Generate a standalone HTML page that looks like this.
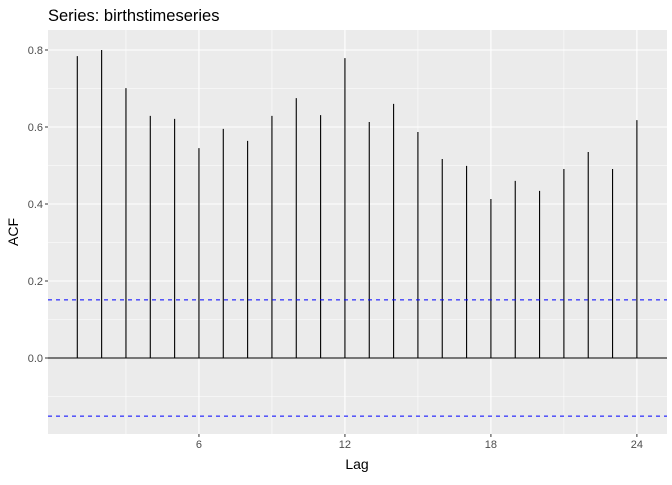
<!DOCTYPE html>
<html><head><meta charset="utf-8"><style>
body{margin:0;background:#fff;font-family:"Liberation Sans",sans-serif}
</style></head><body>
<svg id="chart" width="672" height="480" xmlns="http://www.w3.org/2000/svg">
<text x="48" y="21" font-size="16.5" fill="#000">Series: birthstimeseries</text>
<rect x="48" y="30" width="619" height="404" fill="#ebebeb"/>
<g id="grid"></g><g id="marks"></g><g id="axes"></g>
<text x="357" y="469" font-size="14" text-anchor="middle">Lag</text>
<text transform="translate(18,232) rotate(-90)" font-size="14" text-anchor="middle">ACF</text>
</svg>
<script>
const lags=[1,2,3,4,5,6,7,8,9,10,11,12,13,14,15,16,17,18,19,20,21,22,23,24];
const acfValues=[0.784,0.800,0.701,0.629,0.621,0.545,0.595,0.564,0.629,0.675,0.631,0.779,0.613,0.660,0.587,0.517,0.499,0.413,0.460,0.434,0.491,0.535,0.491,0.618];
const ciBound=[0.151];
const xTicks=[6,12,18,24];
const xMinor=[3,9,15,21];
const yTicks=[0,0.2,0.4,0.6,0.8];
const yTickLabels=["0.0","0.2","0.4","0.6","0.8"];
const yMinor=[-0.1,0.1,0.3,0.5,0.7];
const NS="http://www.w3.org/2000/svg";
const X=v=>77.3+(v-1)*24.33, Y=v=>358-v*385;
const L=48,R=667,T=30,B=434;
function mk(p,tag,a){const e=document.createElementNS(NS,tag);for(const k in a)e.setAttribute(k,a[k]);p.appendChild(e);return e;}
const g=document.getElementById('grid'),m=document.getElementById('marks'),ax=document.getElementById('axes');
yMinor.forEach(v=>{const e=mk(g,'line',{x1:L,x2:R,y1:Y(v),y2:Y(v),stroke:'#fff','stroke-width':0.55});

});
xMinor.forEach(v=>{const e=mk(g,'line',{x1:X(v),x2:X(v),y1:T,y2:B,stroke:'#fff','stroke-width':0.55});

});
yTicks.forEach((v,i)=>{const e=mk(g,'line',{x1:L,x2:R,y1:Y(v),y2:Y(v),stroke:'#fff','stroke-width':1.1});


mk(ax,'line',{x1:L-3,x2:L,y1:Y(v),y2:Y(v),stroke:'#333'});
const t=mk(ax,'text',{x:L-5,y:Y(v)+4,'font-size':11,fill:'#4d4d4d','text-anchor':'end'});t.textContent=yTickLabels[i];

});
xTicks.forEach(v=>{const e=mk(g,'line',{x1:X(v),x2:X(v),y1:T,y2:B,stroke:'#fff','stroke-width':1.1});


mk(ax,'line',{x1:X(v),x2:X(v),y1:B,y2:B+3,stroke:'#333'});
const t=mk(ax,'text',{x:X(v),y:B+14,'font-size':11,fill:'#4d4d4d','text-anchor':'middle'});t.textContent=v;

});
const z=mk(m,'line',{x1:L,x2:R,y1:Y(0),y2:Y(0),stroke:'#000','stroke-width':1.1});


lags.forEach((l,i)=>{const e=mk(m,'line',{x1:X(l),x2:X(l),y1:Y(0),y2:Y(acfValues[i]),stroke:'#000','stroke-width':1.1});

});
[ciBound[0],-ciBound[0]].forEach(v=>{const e=mk(m,'line',{x1:L,x2:R,y1:Y(v),y2:Y(v),stroke:'#0000ff','stroke-width':1.1,'stroke-dasharray':'4,4'});

});
</script>
</body></html>
